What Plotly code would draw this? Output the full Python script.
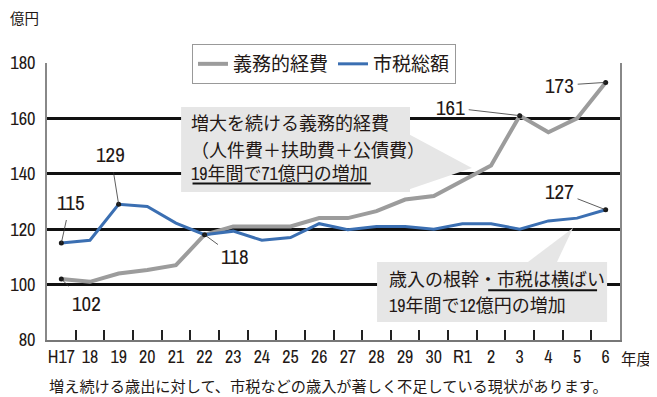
import plotly.graph_objects as go

years = ["H17", "18", "19", "20", "21", "22", "23", "24", "25", "26",
         "27", "28", "29", "30", "R1", "2", "3", "4", "5", "6"]
mandatory = [102, 101, 104, 105.3, 107, 118, 121, 121, 121, 124,
             124, 126.5, 130.7, 132, 137.6, 143, 161, 155, 160, 173]
city_tax = [115, 116, 129, 128.2, 122.2, 118, 119.3, 116, 117, 122,
            119.8, 121, 121, 120, 122, 122, 120, 123, 124, 127]
y_ticks = [80, 100, 120, 140, 160, 180]

series_names = ["義務的経費", "市税総額"]
# labelled points: (series, year index, label, dx, dy)
labelled = [
    ("tax", 0, "115", 9, -41),
    ("tax", 2, "129", -8, -50),
    ("man", 0, "102", 25, 24),
    ("tax", 5, "118", 30, 22),
    ("man", 16, "161", -69, -8),
    ("man", 19, "173", -46, 3),
    ("tax", 19, "127", -46, -18),
]

TXT = "#231815"
NUM_FONT = "Archivo Narrow, Noto Sans CJK JP, sans-serif"
JP_FONT = "Noto Sans CJK JP, sans-serif"
GRAY = "#9c9c9c"
BLUE = "#3b6fb2"
BOX = "#e6e6e6"

fig = go.Figure()
fig.add_trace(go.Scatter(x=years, y=mandatory, mode="lines", name=series_names[0],
                         line=dict(color=GRAY, width=4)))
fig.add_trace(go.Scatter(x=years, y=city_tax, mode="lines", name=series_names[1],
                         line=dict(color=BLUE, width=3)))

src = {"man": mandatory, "tax": city_tax}
fig.add_trace(go.Scatter(
    x=[years[i] for s, i, *_ in labelled],
    y=[src[s][i] for s, i, *_ in labelled],
    mode="markers", marker=dict(color="#1a1a1a", size=5), showlegend=False,
    hoverinfo="skip"))

for s, i, lab, dx, dy in labelled:
    fig.add_annotation(x=i, y=src[s][i], xref="x", yref="y", text=lab, showarrow=True,
                       arrowhead=0, arrowwidth=0.8, arrowcolor="#333",
                       ax=dx, ay=dy, standoff=0, startstandoff=2,
                       font=dict(family=NUM_FONT, size=21, color=TXT))

# callout box 1
fig.add_shape(type="path", xref="x", yref="y",
              path="M 12.1 154.5 L 14.33 142.1 L 12.1 134.2 Z",
              fillcolor=BOX, line=dict(width=0), layer="between")
fig.add_shape(type="rect", xref="x", yref="y", x0=4.18, x1=12.17, y0=133.4, y1=164.1,
              fillcolor=BOX, line=dict(width=0), layer="between")
box1 = ["増大を続ける義務的経費", "（人件費＋扶助費＋公債費）", "19年間で71億円の増加"]
box1_y = [158.2, 148.4, 140.2]
for t, yy in zip(box1, box1_y):
    fig.add_annotation(x=4.46, y=yy, xref="x", yref="y", text=t, showarrow=False,
                       xanchor="left", yanchor="middle",
                       font=dict(family=NUM_FONT, size=18, color=TXT))
fig.add_shape(type="line", xref="x", yref="y", x0=4.58, x1=10.8, y0=136.5, y1=136.5,
              line=dict(color="#111", width=2), layer="above")

# callout box 2
fig.add_shape(type="path", xref="x", yref="y",
              path="M 16.29 108.2 L 17.86 120.4 L 17.3 108.2 Z",
              fillcolor=BOX, line=dict(width=0), layer="between")
fig.add_shape(type="rect", xref="x", yref="y", x0=11.02, x1=19.05, y0=86.5, y1=108.2,
              fillcolor=BOX, line=dict(width=0), layer="between")
box2 = ["歳入の根幹・市税は横ばい", "19年間で12億円の増加"]
box2_y = [102, 92.5]
for t, yy in zip(box2, box2_y):
    fig.add_annotation(x=11.35, y=yy, xref="x", yref="y", text=t, showarrow=False,
                       xanchor="left", yanchor="middle",
                       font=dict(family=NUM_FONT, size=18, color=TXT))
fig.add_shape(type="line", xref="x", yref="y", x0=14.9, x1=18.7, y0=98, y1=98,
              line=dict(color="#111", width=2), layer="above")

# axis titles / caption
fig.add_annotation(x=-0.068, y=1.163, xref="paper", yref="paper", text="億円", showarrow=False,
                   xanchor="left", yanchor="middle",
                   font=dict(family=JP_FONT, size=14.5, color=TXT))
fig.add_annotation(x=0.998, y=-0.065, xref="paper", yref="paper", text="年度", showarrow=False,
                   xanchor="left", yanchor="middle",
                   font=dict(family=JP_FONT, size=15.5, color=TXT))
fig.add_annotation(x=0.0, y=-0.1625, xref="paper", yref="paper",
                   text="増え続ける歳出に対して、市税などの歳入が著しく不足している現状があります。",
                   showarrow=False, xanchor="left", yanchor="middle",
                   font=dict(family=JP_FONT, size=15.2, color=TXT))

# page body has an 8px default margin, so the figure is 8px smaller and margins shifted
fig.update_layout(
    width=649, height=389,
    margin=dict(l=39, r=37, t=55, b=57, autoexpand=False),
    plot_bgcolor="white", paper_bgcolor="white",
    showlegend=True,
    legend=dict(orientation="h", x=0.2835, y=0.9075, xref="container", yref="container",
                xanchor="left", yanchor="top",
                bgcolor="white", bordercolor="#999", borderwidth=1,
                font=dict(family=JP_FONT, size=19, color=TXT)),
    xaxis=dict(type="category", range=[-0.5, 19.5], tickson="boundaries",
               ticks="inside", ticklen=10, tickwidth=2, tickcolor="#222",
               tickangle=0, automargin=False,
               showgrid=False, showline=True, linecolor="#777", linewidth=1.5,
               tickfont=dict(family=NUM_FONT, size=18, color=TXT)),
    yaxis=dict(range=[80, 180], tickvals=y_ticks, showgrid=False,
               showline=True, mirror=True, linecolor="#888", linewidth=1.5,
               ticks="outside", ticklen=6, tickcolor="rgba(0,0,0,0)",
               zeroline=False, automargin=False,
               tickfont=dict(family=NUM_FONT, size=18.5, color=TXT)),
    # overlay axis used only to draw the horizontal gridlines (100-180)
    yaxis2=dict(range=[80, 180], tickvals=y_ticks[1:], overlaying="y", side="left",
                showgrid=True, gridcolor="#111", gridwidth=2.5, showticklabels=False,
                ticks="", zeroline=False, showline=False, automargin=False),
)
fig.add_trace(go.Scatter(x=[years[0]], y=[y_ticks[1]], yaxis="y2", mode="markers",
                         marker=dict(opacity=0), showlegend=False, hoverinfo="skip"))

fig.write_html("out.html")
